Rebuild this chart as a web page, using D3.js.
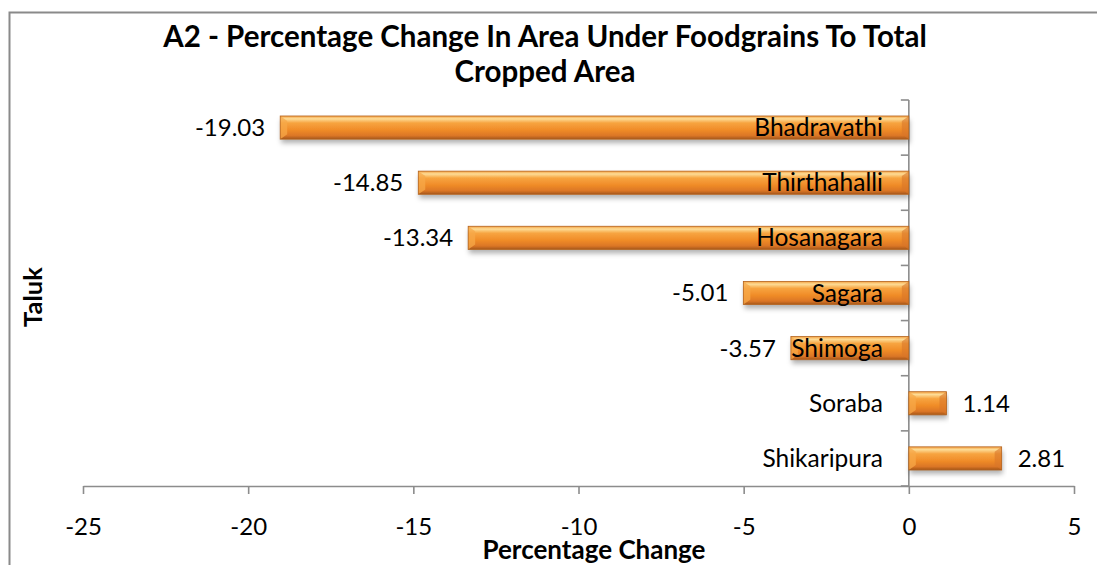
<!DOCTYPE html>
<html>
<head>
<meta charset="utf-8">
<script src="https://cdnjs.cloudflare.com/ajax/libs/d3/7.8.5/d3.min.js"></script>
<style>
  body { margin: 0; background: #fff; }
  text { font-family: Lato, "Open Sans", sans-serif; fill: #000; }
</style>
</head>
<body>
<div id="chart"></div>
<script>
// Chart data (top to bottom as drawn)
var taluks = ["Bhadravathi", "Thirthahalli", "Hosanagara", "Sagara", "Shimoga", "Soraba", "Shikaripura"];
var changes = [-19.03, -14.85, -13.34, -5.01, -3.57, 1.14, 2.81];
var xTicks = [-25, -20, -15, -10, -5, 0, 5];

var svgWidth = 1097;
var svgHeight = 565;

var data = taluks.map(function(t, i) { return { taluk: t, value: changes[i] }; });

var svg = d3.select("#chart")
  .append("svg")
  .attr("width", svgWidth)
  .attr("height", svgHeight);

// gradients + shadow for the bevelled bars
var defs = svg.append("defs");
var grad = defs.append("linearGradient")
  .attr("id", "barFill")
  .attr("x1", 0).attr("y1", 0).attr("x2", 0).attr("y2", 1);
grad.append("stop").attr("offset", "0%").attr("stop-color", "#f5a040");
grad.append("stop").attr("offset", "12%").attr("stop-color", "#fddc96");
grad.append("stop").attr("offset", "30%").attr("stop-color", "#f7a440");
grad.append("stop").attr("offset", "60%").attr("stop-color", "#f08c28");
grad.append("stop").attr("offset", "85%").attr("stop-color", "#db7626");
grad.append("stop").attr("offset", "100%").attr("stop-color", "#a4561a");

var shadow = defs.append("filter")
  .attr("id", "shadow")
  .attr("x", "-5%").attr("y", "-30%").attr("width", "110%").attr("height", "180%");
shadow.append("feDropShadow")
  .attr("dx", 1).attr("dy", 4).attr("stdDeviation", 2.5)
  .attr("flood-color", "#000").attr("flood-opacity", 0.3);

// outer chart border
svg.append("rect")
  .attr("x", 9.5).attr("y", 12.5)
  .attr("width", svgWidth + 20).attr("height", svgHeight + 20)
  .attr("fill", "none")
  .attr("stroke", "#8a8a8a")
  .attr("stroke-width", 2);

// scales
var xScale = d3.scaleLinear()
  .domain([-25, 5])
  .range([83, 1074]);

var yScale = d3.scaleBand()
  .domain(taluks)
  .range([100, 486])
  .paddingInner(0.58)
  .paddingOuter(0.29);

var x0 = xScale(0);

// x axis
var xAxis = d3.axisBottom(xScale)
  .tickValues(xTicks)
  .tickSize(8)
  .tickSizeOuter(0);

var xg = svg.append("g")
  .attr("transform", "translate(0, 486)")
  .call(xAxis);
xg.selectAll("path, line").attr("stroke", "#8c8c8c").attr("stroke-width", 1.6);
xg.selectAll(".tick text")
  .attr("y", 49)
  .attr("dy", "0")
  .style("font-size", "24px")
  .style("font-family", "Lato, sans-serif")
  .attr("fill", "#000")
  .text(function(d) { return d; });

// y axis line with ticks at band boundaries
var step = yScale.step();
var boundaries = d3.range(taluks.length + 1).map(function(i) { return 100 + i * step; });
svg.append("line")
  .attr("x1", x0).attr("x2", x0)
  .attr("y1", 100).attr("y2", 486)
  .attr("stroke", "#8c8c8c").attr("stroke-width", 1.6);
svg.selectAll(".ytick")
  .data(boundaries)
  .enter()
  .append("line")
  .attr("class", "ytick")
  .attr("x1", x0 - 8).attr("x2", x0)
  .attr("y1", function(d) { return d; })
  .attr("y2", function(d) { return d; })
  .attr("stroke", "#8c8c8c").attr("stroke-width", 1.6);

// bars
var bars = svg.selectAll(".bar")
  .data(data)
  .enter()
  .append("g")
  .attr("class", "bar");

bars.append("rect")
  .attr("x", function(d) { return Math.min(xScale(d.value), x0); })
  .attr("y", function(d) { return yScale(d.taluk); })
  .attr("width", function(d) { return Math.abs(xScale(d.value) - x0); })
  .attr("height", yScale.bandwidth())
  .attr("fill", "url(#barFill)")
  .attr("filter", "url(#shadow)");

// bevel facets at both ends of each bar
var bevel = 7;
bars.append("path")
  .attr("d", function(d) {
    var xa = Math.min(xScale(d.value), x0), y = yScale(d.taluk), h = yScale.bandwidth();
    return "M" + xa + "," + y + "L" + (xa + bevel) + "," + (y + bevel * 0.7) +
      "L" + (xa + bevel) + "," + (y + h - bevel * 0.7) + "L" + xa + "," + (y + h) + "Z";
  })
  .attr("fill", "#f7a848")
  .attr("opacity", 0.75);
bars.append("path")
  .attr("d", function(d) {
    var xb = Math.max(xScale(d.value), x0), y = yScale(d.taluk), h = yScale.bandwidth();
    return "M" + xb + "," + y + "L" + (xb - bevel) + "," + (y + bevel * 0.7) +
      "L" + (xb - bevel) + "," + (y + h - bevel * 0.7) + "L" + xb + "," + (y + h) + "Z";
  })
  .attr("fill", "#d9762a")
  .attr("opacity", 0.6);
bars.append("rect")
  .attr("x", function(d) { return Math.min(xScale(d.value), x0); })
  .attr("y", function(d) { return yScale(d.taluk); })
  .attr("width", function(d) { return Math.abs(xScale(d.value) - x0); })
  .attr("height", yScale.bandwidth())
  .attr("fill", "none")
  .attr("stroke", "#b4641f")
  .attr("stroke-width", 0.8);

// category labels next to the axis
svg.selectAll(".cat")
  .data(data)
  .enter()
  .append("text")
  .attr("class", "cat")
  .attr("x", x0 - 26)
  .attr("y", function(d) { return yScale(d.taluk) + yScale.bandwidth() / 2; })
  .attr("dy", "0.35em")
  .attr("text-anchor", "end")
  .style("font-size", "24.5px")
  .text(function(d) { return d.taluk; });

// value labels
svg.selectAll(".val")
  .data(data)
  .enter()
  .append("text")
  .attr("class", "val")
  .attr("x", function(d) { return d.value < 0 ? xScale(d.value) - 15 : xScale(d.value) + 16; })
  .attr("y", function(d) { return yScale(d.taluk) + yScale.bandwidth() / 2; })
  .attr("dy", "0.35em")
  .attr("text-anchor", function(d) { return d.value < 0 ? "end" : "start"; })
  .style("font-size", "24px")
  .text(function(d) { return d.value.toFixed(2); });

// title
var title = svg.append("text")
  .attr("x", 545)
  .attr("y", 47)
  .attr("text-anchor", "middle")
  .style("font-size", "29.5px")
  .style("font-weight", "bold");
title.append("tspan").attr("x", 545).text("A2 - Percentage Change In Area Under Foodgrains To Total");
title.append("tspan").attr("x", 545).attr("dy", 35).text("Cropped Area");

// axis titles
svg.append("text")
  .attr("x", 594)
  .attr("y", 559)
  .attr("text-anchor", "middle")
  .style("font-size", "26px")
  .style("font-weight", "bold")
  .text("Percentage Change");

svg.append("text")
  .attr("transform", "translate(42, 297) rotate(-90)")
  .attr("text-anchor", "middle")
  .style("font-size", "25.5px")
  .style("font-weight", "bold")
  .text("Taluk");
</script>
</body>
</html>
